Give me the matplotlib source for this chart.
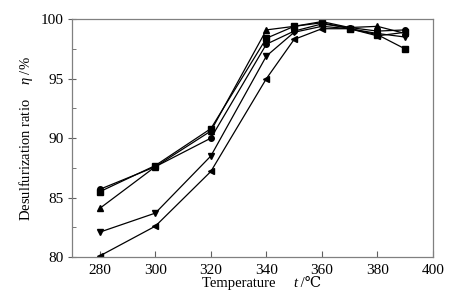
import matplotlib
matplotlib.use("Agg")
import matplotlib.pyplot as plt
from matplotlib.ticker import MultipleLocator
from matplotlib.offsetbox import TextArea, HPacker, AnchoredOffsetbox

plt.rcParams['font.family'] = ['Liberation Serif', 'DejaVu Serif']
plt.rcParams['mathtext.fontset'] = 'custom'
plt.rcParams['mathtext.it'] = 'Liberation Serif:italic'
plt.rcParams['mathtext.rm'] = 'Liberation Serif'

# temperatures (°C)
temp = [280, 300, 320, 340, 350, 360, 370, 380, 390]

# desulfurization ratio (%) for each series
s_square = [85.5, 87.7, 90.8, 98.4, 99.4, 99.7, 99.2, 98.7, 97.5]
s_circle = [85.7, 87.6, 90.0, 97.9, 99.0, 99.6, 99.3, 99.0, 99.1]
s_up = [84.1, 87.6, 90.6, 99.1, 99.4, 99.8, 99.3, 99.4, 98.8]
s_down = [82.1, 83.7, 88.5, 96.9, 98.9, 99.4, 99.2, 98.8, 98.5]
s_left = [80.1, 82.6, 87.2, 95.0, 98.3, 99.2, 99.2, 98.6, 98.9]

fig = plt.figure(figsize=(4.65, 3.0), dpi=100)
ax = fig.add_axes([0.155, 0.143, 0.776, 0.793])

ms = 4
ax.plot(temp, s_square, color='black', lw=0.9, marker='s', ms=ms)
ax.plot(temp, s_circle, color='black', lw=0.9, marker='o', ms=ms)
ax.plot(temp, s_up, color='black', lw=0.9, marker='^', ms=ms)
ax.plot(temp, s_down, color='black', lw=0.9, marker='v', ms=ms)
ax.plot(temp, s_left, color='black', lw=0.9, marker='<', ms=ms)

ax.set_xlim(270, 400)
ax.set_ylim(80, 100)
ax.xaxis.set_major_locator(MultipleLocator(20))
ax.yaxis.set_major_locator(MultipleLocator(5))
ax.yaxis.set_minor_locator(MultipleLocator(2.5))

for sp in ax.spines.values():
    sp.set_color('#808080')
    sp.set_linewidth(0.9)

ax.tick_params(axis='x', which='major', direction='in', length=4, color='#606060', labelsize=11, pad=5)
ax.tick_params(axis='y', which='major', direction='inout', length=6, color='#606060', labelsize=11, pad=3)
ax.tick_params(axis='y', which='minor', direction='in', length=3, color='#606060')

# x label built from pieces so that t is italic and ℃ can fall back to DejaVu
fam = ['Liberation Serif', 'DejaVu Serif']
parts = [
    TextArea('Temperature     ', textprops=dict(fontsize=10.5, family=fam)),
    TextArea('t', textprops=dict(fontsize=10.5, family=fam, style='italic')),
    TextArea(' /℃', textprops=dict(fontsize=10.5, family=fam)),
]
xl = HPacker(children=parts, align='baseline', pad=0, sep=0)
box = AnchoredOffsetbox(loc='upper center', child=xl, pad=0, frameon=False,
                        bbox_to_anchor=(0.525, -0.085), bbox_transform=ax.transAxes, borderpad=0)
ax.add_artist(box)

ax.set_ylabel('Desulfurization ratio    $\\eta$ /%', fontsize=10.5, labelpad=4)

fig.savefig('out.png', dpi=100)
